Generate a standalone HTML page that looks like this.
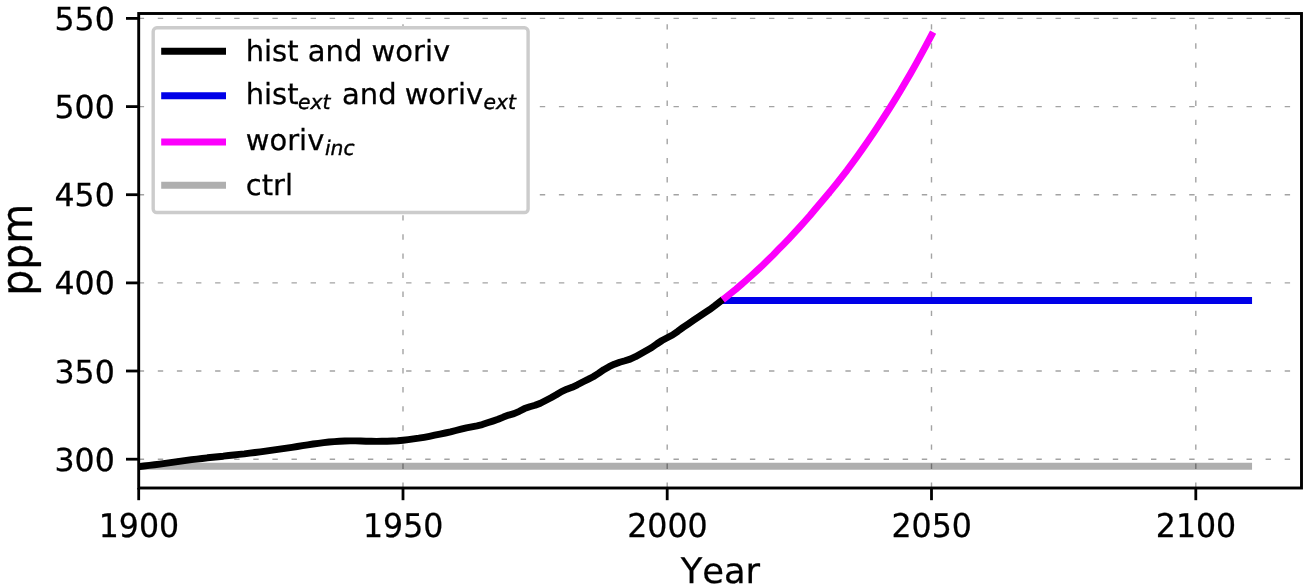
<!DOCTYPE html>
<html lang="en"><head><meta charset="utf-8"><title>CO2 concentration scenarios</title>
<style>html,body{margin:0;padding:0;background:#fff}body{width:1311px;height:588px;overflow:hidden}svg{display:block;will-change:transform}text{font-family:"DejaVu Sans","Liberation Sans",sans-serif;fill:#000;stroke:#000;stroke-width:0.25px;font-kerning:none;text-rendering:geometricPrecision}.sub{stroke-width:0.4px}.it{font-family:"DejaVu Sans","Liberation Sans",sans-serif;font-style:oblique}</style></head><body>
<svg width="1311" height="588" viewBox="0 0 1311 588">
<rect width="1311" height="588" fill="#fff"/>
<defs><clipPath id="ax"><rect x="138.7" y="13.5" width="1162.8" height="474.5"/></clipPath></defs>
<g clip-path="url(#ax)" fill="none" stroke-width="6.9" stroke-linecap="square" stroke-linejoin="round">
<path d="M138.7 466.3 L1248.6 466.3" stroke="#afafaf"/>
</g>
<g stroke="#000" stroke-opacity="0.36" stroke-width="1.4" stroke-dasharray="5.4 13.7" fill="none">
<line x1="138.7" y1="488.0" x2="138.7" y2="13.5"/>
<line x1="403.0" y1="488.0" x2="403.0" y2="13.5"/>
<line x1="667.2" y1="488.0" x2="667.2" y2="13.5"/>
<line x1="931.5" y1="488.0" x2="931.5" y2="13.5"/>
<line x1="1195.8" y1="488.0" x2="1195.8" y2="13.5"/>
<line x1="138.7" y1="459.2" x2="1301.5" y2="459.2"/>
<line x1="138.7" y1="371.0" x2="1301.5" y2="371.0"/>
<line x1="138.7" y1="282.9" x2="1301.5" y2="282.9"/>
<line x1="138.7" y1="194.7" x2="1301.5" y2="194.7"/>
<line x1="138.7" y1="106.6" x2="1301.5" y2="106.6"/>
<line x1="138.7" y1="18.4" x2="1301.5" y2="18.4"/>
</g>
<g clip-path="url(#ax)" fill="none" stroke-width="6.9" stroke-linecap="square" stroke-linejoin="round">
<path d="M725.4 300.5 L1248.6 300.5" stroke="#0000e8"/>
<path d="M138.7 466.6 L144.0 466.0 L149.3 465.4 L154.6 464.8 L159.8 464.1 L165.1 463.4 L170.4 462.6 L175.7 461.8 L181.0 461.1 L186.3 460.4 L191.6 459.7 L196.8 459.1 L202.1 458.5 L207.4 457.8 L212.7 457.3 L218.0 456.7 L223.3 456.2 L228.6 455.5 L233.8 455.0 L239.1 454.4 L244.4 453.9 L249.7 453.2 L255.0 452.5 L260.3 451.9 L265.6 451.2 L270.8 450.4 L276.1 449.7 L281.4 448.9 L286.7 448.1 L292.0 447.3 L297.3 446.5 L302.5 445.6 L307.8 444.8 L313.1 444.0 L318.4 443.3 L323.7 442.6 L329.0 442.0 L334.3 441.6 L339.5 441.3 L344.8 441.0 L350.1 440.9 L355.4 440.9 L360.7 441.0 L366.0 441.2 L371.3 441.3 L376.5 441.4 L381.8 441.3 L387.1 441.2 L392.4 441.0 L397.7 440.7 L403.0 440.2 L408.3 439.6 L413.5 438.9 L418.8 438.2 L424.1 437.3 L429.4 436.3 L434.7 435.2 L440.0 434.1 L445.3 433.0 L450.5 431.9 L455.8 430.5 L461.1 429.1 L466.4 427.8 L471.7 426.8 L477.0 425.8 L482.3 424.6 L487.5 422.8 L492.8 421.1 L498.1 419.3 L503.4 417.1 L508.7 415.1 L514.0 413.6 L519.3 411.3 L524.5 408.6 L529.8 406.8 L535.1 405.3 L540.4 403.2 L545.7 400.5 L551.0 397.8 L556.3 394.8 L561.5 391.6 L566.8 389.2 L572.1 387.3 L577.4 384.8 L582.7 382.0 L588.0 379.4 L593.2 376.7 L598.5 373.4 L603.8 369.7 L609.1 366.7 L614.4 364.2 L619.7 362.2 L625.0 360.7 L630.2 359.1 L635.5 356.7 L640.8 353.7 L646.1 350.8 L651.4 347.8 L656.7 344.0 L662.0 340.5 L667.2 337.8 L672.5 335.0 L677.8 331.3 L683.1 327.4 L688.4 323.8 L693.7 320.2 L699.0 316.7 L704.2 313.2 L709.5 309.7 L714.8 305.8 L720.1 301.7" stroke="#000"/>
<path d="M725.4 297.6 L730.7 293.4 L736.0 289.1 L741.2 284.6 L746.5 280.0 L751.8 275.2 L757.1 270.4 L762.4 265.4 L767.7 260.3 L773.0 255.1 L778.2 249.7 L783.5 244.3 L788.8 238.8 L794.1 233.2 L799.4 227.4 L804.7 221.5 L810.0 215.5 L815.2 209.3 L820.5 203.1 L825.8 196.8 L831.1 190.4 L836.4 183.8 L841.7 177.2 L847.0 170.3 L852.2 163.2 L857.5 156.0 L862.8 148.6 L868.1 140.9 L873.4 133.1 L878.7 125.2 L883.9 117.1 L889.2 108.8 L894.5 100.3 L899.8 91.7 L905.1 82.8 L910.4 73.7 L915.7 64.4 L920.9 54.9 L926.2 45.1 L931.5 35.1" stroke="#fc00fc"/>
</g>
<g stroke="#000" stroke-width="2.8" fill="none">
<line x1="138.7" y1="488.0" x2="138.7" y2="500.2"/>
<line x1="403.0" y1="488.0" x2="403.0" y2="500.2"/>
<line x1="667.2" y1="488.0" x2="667.2" y2="500.2"/>
<line x1="931.5" y1="488.0" x2="931.5" y2="500.2"/>
<line x1="1195.8" y1="488.0" x2="1195.8" y2="500.2"/>
<line x1="138.7" y1="459.2" x2="126.0" y2="459.2"/>
<line x1="138.7" y1="371.0" x2="126.0" y2="371.0"/>
<line x1="138.7" y1="282.9" x2="126.0" y2="282.9"/>
<line x1="138.7" y1="194.7" x2="126.0" y2="194.7"/>
<line x1="138.7" y1="106.6" x2="126.0" y2="106.6"/>
<line x1="138.7" y1="18.4" x2="126.0" y2="18.4"/>
</g>
<rect x="138.7" y="13.5" width="1162.8" height="474.5" fill="none" stroke="#000" stroke-width="2.9"/>
<g font-size="31.6">
<text transform="translate(138.9 536.9) scale(1 1.035)" text-anchor="middle">1900</text>
<text transform="translate(403.2 536.9) scale(1 1.035)" text-anchor="middle">1950</text>
<text transform="translate(667.4 536.9) scale(1 1.035)" text-anchor="middle">2000</text>
<text transform="translate(931.7 536.9) scale(1 1.035)" text-anchor="middle">2050</text>
<text transform="translate(1196.0 536.9) scale(1 1.035)" text-anchor="middle">2100</text>
<text x="114.8" y="470.7" text-anchor="end">300</text>
<text x="114.8" y="382.5" text-anchor="end">350</text>
<text x="114.8" y="294.4" text-anchor="end">400</text>
<text x="114.8" y="206.2" text-anchor="end">450</text>
<text x="114.8" y="118.1" text-anchor="end">500</text>
<text x="114.8" y="29.9" text-anchor="end">550</text>
</g>
<text x="720.4" y="582.9" font-size="35.3" text-anchor="middle">Year</text>
<text transform="translate(31.5 249.7) rotate(-90) scale(0.99 1.04)" font-size="41.5" text-anchor="middle">ppm</text>
<rect x="153.2" y="27.8" width="374.9" height="184.7" rx="3.6" ry="3.6" fill="#fff" stroke="#cccccc" stroke-width="3.4"/>
<g stroke-width="6.9" fill="none">
<line x1="161.2" y1="51.2" x2="226" y2="51.2" stroke="#000"/>
<line x1="161.2" y1="95.7" x2="226" y2="95.7" stroke="#0000e8"/>
<line x1="161.2" y1="142.0" x2="226" y2="142.0" stroke="#fc00fc"/>
<line x1="161.2" y1="185.3" x2="226" y2="185.3" stroke="#afafaf"/>
</g>
<g font-size="29.0">
<text x="245.7" y="61">hist and woriv</text>
<text x="245.7" y="103.7">hist<tspan class="it sub" font-size="20.3" dx="-0.5" dy="5.1">ext</tspan><tspan dx="2.3" dy="-5.1"> and</tspan><tspan dx="-1.2"> woriv</tspan><tspan class="it sub" font-size="20.3" dx="0.2" dy="5.1">ext</tspan></text>
<text x="245.7" y="149.8">woriv<tspan class="it sub" font-size="20.3" dx="0.6" dy="5.5">inc</tspan></text>
<text x="245.7" y="194.7">ctrl</text>
</g>
</svg></body></html>
